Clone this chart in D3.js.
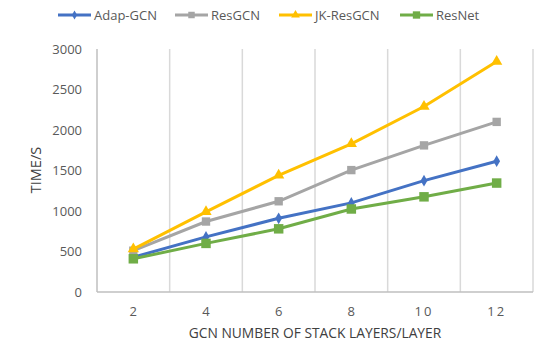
<!DOCTYPE html>
<html>
<head>
<meta charset="utf-8">
<script src="https://cdn.jsdelivr.net/npm/d3@7"></script>
<style>
  body { margin: 0; background: #fff; }
  text { font-family: "Open Sans", sans-serif; fill: #595959; }
</style>
</head>
<body>
<script>
const layers = [2, 4, 6, 8, 10, 12];
const adapGCN = [430, 680, 910, 1100, 1375, 1615];
const resGCN = [510, 870, 1120, 1505, 1810, 2100];
const jkResGCN = [530, 990, 1440, 1830, 2290, 2845];
const resNet = [410, 600, 780, 1025, 1175, 1345];
const yTicks = [0, 500, 1000, 1500, 2000, 2500, 3000];

const series = [
    { name: "Adap-GCN", values: adapGCN, color: "#4472C4", shape: d3.symbolDiamond, size: 40 },
    { name: "ResGCN", values: resGCN, color: "#A5A5A5", shape: d3.symbolSquare, size: 70 },
    { name: "JK-ResGCN", values: jkResGCN, color: "#FFC000", shape: d3.symbolTriangle, size: 55 },
    { name: "ResNet", values: resNet, color: "#70AD47", shape: d3.symbolSquare, size: 90 }
];

const width = 547, height = 353;
const margin = { left: 97, right: 14, top: 49, bottom: 61 };

const svg = d3.select("body").append("svg")
    .attr("width", width)
    .attr("height", height);

const x = d3.scaleBand()
    .domain(layers)
    .range([margin.left, width - margin.right]);

const y = d3.scaleLinear()
    .domain([0, 3000])
    .range([height - margin.bottom, margin.top]);

//vertical gridlines at category boundaries
const bounds = layers.map(d => x(d)).concat([x.range()[1]]);
svg.append("g").selectAll("line")
    .data(bounds.slice(1))
    .enter().append("line")
    .attr("x1", d => d).attr("x2", d => d)
    .attr("y1", y(3000)).attr("y2", y(0))
    .attr("stroke", "#d9d9d9")
    .attr("stroke-width", 1.5);

//axis lines
svg.append("line")
    .attr("x1", x.range()[0]).attr("x2", x.range()[0])
    .attr("y1", y(3000)).attr("y2", y(0))
    .attr("stroke", "#bfbfbf").attr("stroke-width", 1.5);
svg.append("line")
    .attr("x1", x.range()[0]).attr("x2", x.range()[1])
    .attr("y1", y(0)).attr("y2", y(0))
    .attr("stroke", "#bfbfbf").attr("stroke-width", 1.5);

//y tick labels
svg.append("g").selectAll("text")
    .data(yTicks)
    .enter().append("text")
    .attr("x", 82)
    .attr("y", d => y(d))
    .attr("dy", "0.35em")
    .attr("text-anchor", "end")
    .style("font-size", "13px")
    .text(d => d);

//x tick labels
svg.append("g").selectAll("text")
    .data(layers)
    .enter().append("text")
    .attr("x", d => x(d) + x.bandwidth() / 2)
    .attr("y", 311)
    .attr("dy", "0.35em")
    .attr("text-anchor", "middle")
    .style("font-size", "13px")
    .style("letter-spacing", d => d >= 10 ? "2px" : "0px")
    .text(d => d);

//axis titles
svg.append("text")
    .attr("x", 315)
    .attr("y", 333)
    .attr("dy", "0.35em")
    .attr("text-anchor", "middle")
    .style("font-size", "13.8px")
    .style("fill", "#404040")
    .text("GCN NUMBER OF STACK LAYERS/LAYER");

svg.append("text")
    .attr("transform", "translate(36,170) rotate(-90)")
    .attr("dy", "0.35em")
    .attr("text-anchor", "middle")
    .style("font-size", "14.5px")
    .style("fill", "#404040")
    .text("TIME/S");

//lines and markers
const line = d3.line()
    .x((d, i) => x(layers[i]) + x.bandwidth() / 2)
    .y(d => y(d));

series.forEach(s => {
    svg.append("path")
        .datum(s.values)
        .attr("d", line)
        .attr("fill", "none")
        .attr("stroke", s.color)
        .attr("stroke-width", 3);
    svg.append("g").selectAll("path")
        .data(s.values)
        .enter().append("path")
        .attr("d", d3.symbol().type(s.shape).size(s.size))
        .attr("transform", (d, i) => `translate(${x(layers[i]) + x.bandwidth() / 2},${y(d)})`)
        .attr("fill", s.color);
});

//legend
const legendX = [58, 175, 279, 400];
const legend = svg.append("g").selectAll("g")
    .data(series)
    .enter().append("g")
    .attr("transform", (d, i) => `translate(${legendX[i]},15)`);
legend.append("line")
    .attr("x1", 0).attr("x2", 33)
    .attr("stroke", d => d.color)
    .attr("stroke-width", 3);
legend.append("path")
    .attr("d", d => d3.symbol().type(d.shape).size(d.size * 0.6)())
    .attr("transform", "translate(16.5,0)")
    .attr("fill", d => d.color);
legend.append("text")
    .attr("x", 36)
    .attr("dy", "0.35em")
    .style("font-size", "13px")
    .text(d => d.name);
</script>
</body>
</html>
